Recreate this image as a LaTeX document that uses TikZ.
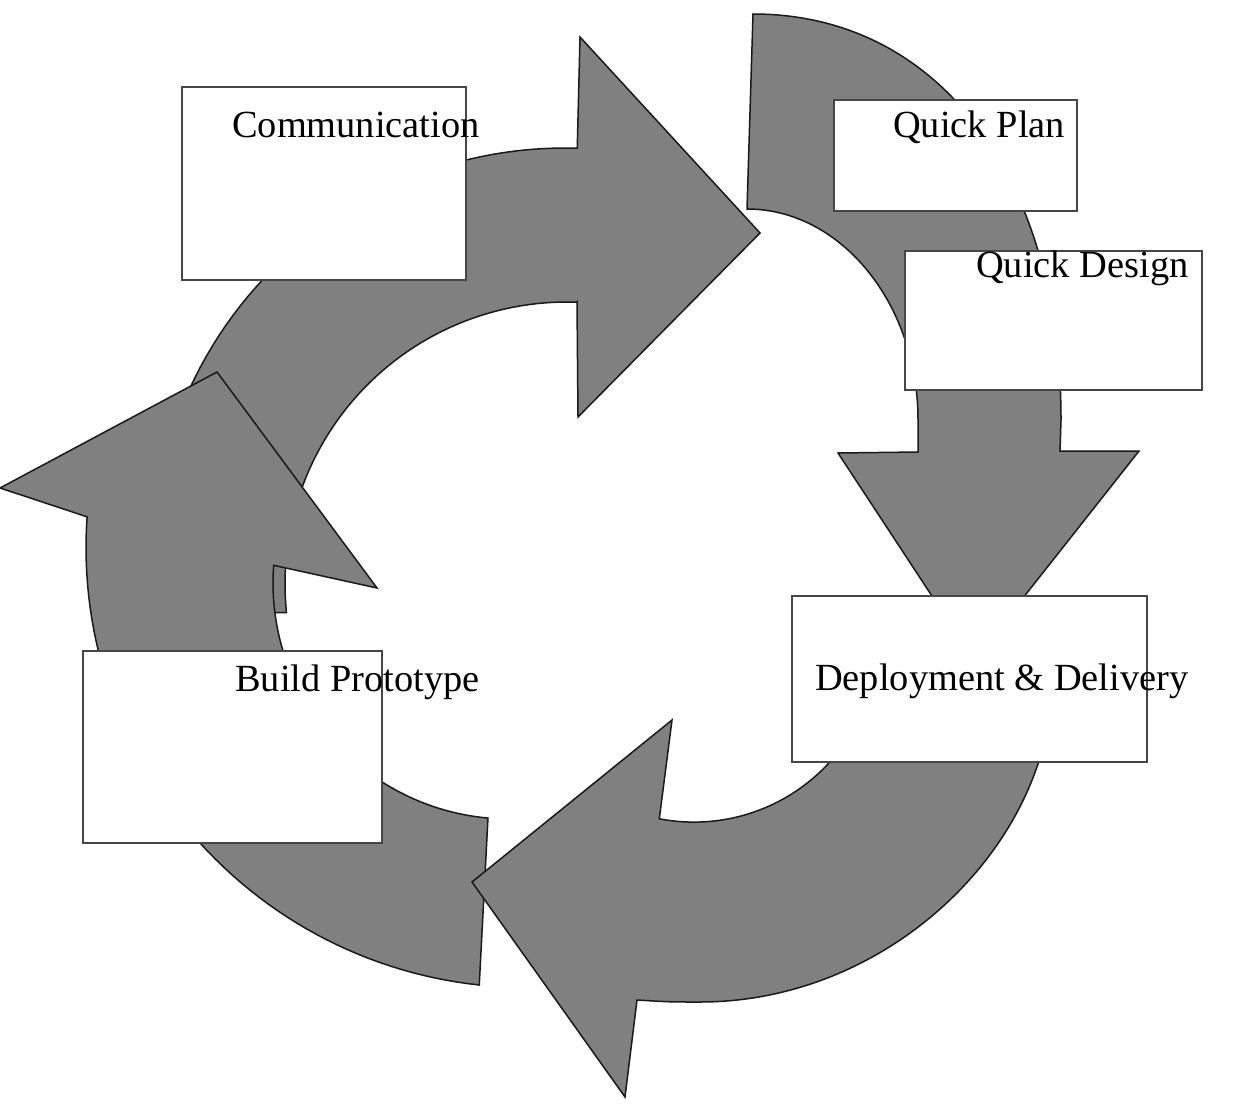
\documentclass[tikz,border=0pt]{standalone}
\usepackage{fontspec}
\setmainfont{Liberation Serif}
\definecolor{arrowfill}{RGB}{128,128,128}
\definecolor{arrowline}{RGB}{25,25,25}
\definecolor{boxline}{RGB}{70,70,70}
\begin{document}
\begin{tikzpicture}[x=1pt,y=-1pt,
  cyclearrow/.style={fill=arrowfill, draw=arrowline, line width=1.5pt, line join=miter},
  box/.style={draw=boxline, fill=white, line width=1.3pt, rectangle, inner sep=0pt},
  lbl/.style={inner sep=0pt, font=\fontsize{38.4}{46}\selectfont, anchor=base west}]
\useasboundingbox (0,0) rectangle (1238,1118);

% top arrow (Communication -> Quick Plan)
\draw[cyclearrow] plot[domain=172.8:271.7, samples=60] ({565+413*cos(\x)},{561+413*sin(\x)})
  -- (580,37) -- (760,233) -- (578,417) -- (577,302)
  -- plot[domain=0:1, samples=60] ({567+282*cos(272-97.9*\x)},{584+282*sin(272-97.9*\x)})
  -- cycle;

% right arrow (Quick Plan / Quick Design -> Deployment)
\draw[cyclearrow] (753,14) .. controls (938,14) and (1061,176) .. (1061,420)
  -- (1060,451) -- (1139,451) -- (974,660) -- (838,453) -- (918,452) -- (918,420)
  .. controls (918,304) and (841,209) .. (747,209) -- cycle;

% left arrow (Build Prototype -> Communication)
\draw[cyclearrow] plot[domain=96.1:184, samples=60] ({526+440*cos(\x)},{547.5+440*sin(\x)})
  -- (0,488) -- (217,372) -- (377,588)
  -- plot[domain=0:1, samples=60] ({509+236*cos(184.3-89.25*\x)},{583+236*sin(184.3-89.25*\x)})
  -- cycle;

% bottom arrow (Deployment -> Build Prototype)
\draw[cyclearrow] (1052,680) .. controls (1052,841) and (893,1002) .. (700,1002)
  .. controls (670,1002) .. (637,1000)
  -- (625,1097) -- (472,882) -- (672,720)
  -- plot[domain=0:1, samples=60] ({694+183.5*cos(100.9-70.9*\x)},{638.6+183.5*sin(100.9-70.9*\x)})
  -- cycle;

% boxes
\node[box, minimum width=284pt, minimum height=193pt] (comm) at (324,183.5) {};
\node[box, minimum width=243pt, minimum height=111pt] (plan) at (955.5,155.5) {};
\node[box, minimum width=297pt, minimum height=139pt] (design) at (1053.5,320.5) {};
\node[box, minimum width=355pt, minimum height=166pt] (deploy) at (969.5,679) {};
\node[box, minimum width=299pt, minimum height=192pt] (build) at (232.5,747) {};

% labels
\node[lbl] (tcomm) at (232,138) {Communication};
\node[lbl] (tplan) at (893,138) {Quick Plan};
\node[lbl] (tdesign) at (976,277) {Quick Design};
\node[lbl] (tdeploy) at (815,690) {Deployment \& Delivery};
\node[lbl] (tbuild) at (235,691) {Build Prototype};
\end{tikzpicture}
\end{document}
